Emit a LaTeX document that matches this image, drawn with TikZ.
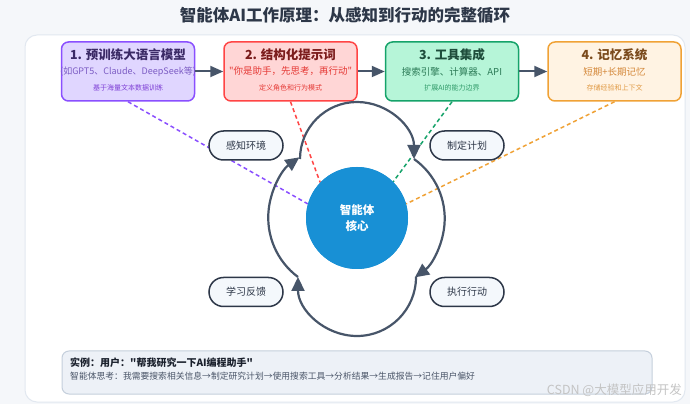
\documentclass[tikz,border=0pt]{standalone}
\usepackage{fontspec}
\setmainfont{Noto Sans CJK SC}[Ligatures=TeXOff]
\usetikzlibrary{arrows.meta}
\definecolor{bgc}{HTML}{F5F7FA}
\definecolor{panelb}{HTML}{E2E8F0}
\definecolor{titlec}{HTML}{2D3748}
\definecolor{arrowc}{HTML}{475569}
\definecolor{c1f}{HTML}{E0D6FF}
\definecolor{c1b}{HTML}{8A4FFF}
\definecolor{c1t}{HTML}{3B2A66}
\definecolor{c1s}{HTML}{7C5CC4}
\definecolor{c1n}{HTML}{7E3FD6}
\definecolor{c2f}{HTML}{FFD6D6}
\definecolor{c2b}{HTML}{FF4545}
\definecolor{c2t}{HTML}{7B1C1C}
\definecolor{c2s}{HTML}{E53935}
\definecolor{c2n}{HTML}{E53935}
\definecolor{c3f}{HTML}{B6F5D8}
\definecolor{c3b}{HTML}{16A36A}
\definecolor{c3t}{HTML}{1E4D3B}
\definecolor{c3s}{HTML}{2B7A56}
\definecolor{c3n}{HTML}{2F9A68}
\definecolor{c4f}{HTML}{FFF3E3}
\definecolor{c4b}{HTML}{F0A236}
\definecolor{c4t}{HTML}{7A4A1C}
\definecolor{c4s}{HTML}{D4883A}
\definecolor{c4n}{HTML}{E09A45}
\definecolor{corec}{HTML}{1890D5}
\definecolor{pillf}{HTML}{F4F8FC}
\definecolor{pillb}{HTML}{2D3748}
\definecolor{exf}{HTML}{EDF1F7}
\definecolor{exb}{HTML}{C5CFDC}
\definecolor{ext}{HTML}{1A202C}
\definecolor{exs}{HTML}{4A5568}
\definecolor{wmc}{HTML}{C4C4C4}
\begin{document}
\begin{tikzpicture}[x=1pt,y=1pt,
  stagebox/.style={draw, line width=1.5pt, rounded corners=7pt, minimum width=133pt, minimum height=59pt, inner sep=0pt},
  stitle/.style={font=\fontsize{12.5}{14}\selectfont\bfseries, inner sep=0pt},
  ssub/.style={font=\fontsize{9.5}{11}\selectfont, inner sep=0pt},
  snote/.style={font=\fontsize{7}{8}\selectfont, inner sep=0pt},
  flow/.style={draw=arrowc, line width=2pt, -{Triangle[length=13pt,width=11pt]}},
  loopline/.style={draw=arrowc, line width=2.2pt, -{Triangle[length=14pt,width=13pt]}},
  dline/.style={line width=1.5pt, dash pattern=on 4pt off 3pt},
  pill/.style={draw=pillb, fill=pillf, line width=1.5pt, rounded corners=14.5pt, minimum width=74pt, minimum height=29pt, inner sep=0pt, font=\fontsize{10}{12}\selectfont, text=titlec}
]
\useasboundingbox (0,0) rectangle (690,404);
\fill[bgc] (0,0) rectangle (690,404);
\node[font=\fontsize{16.5}{19}\selectfont\bfseries, text=titlec] (title) at (345,389) {智能体AI工作原理：从感知到行动的完整循环};
\draw[fill=white, draw=panelb, line width=1pt, rounded corners=12pt] (25,2) rectangle (685,369);

% stage boxes
\node[stagebox, draw=c1b, fill=c1f] (b1) at (128,332.5) {};
\node[stagebox, draw=c2b, fill=c2f] (b2) at (290.5,332.5) {};
\node[stagebox, draw=c3b, fill=c3f] (b3) at (452,332.5) {};
\node[stagebox, draw=c4b, fill=c4f] (b4) at (614.5,332.5) {};

% core
\node[circle, fill=corec, minimum size=102pt, inner sep=0pt] (core) at (357,186) {};

% dashed links
\draw[dline, draw=c1b] (b1.south) -- (core.164);
\draw[dline, draw=c2b] (b2.south) -- (core.136);
\draw[dline, draw=c3b] (b3.south) -- (core.45);
\draw[dline, draw=c4b] (b4.south) -- (core.16);

% redraw core over lines
\node[circle, fill=corec, minimum size=102pt, inner sep=0pt, align=center, text=white, font=\fontsize{11.5}{16}\selectfont\bfseries] (coretext) at (357,186) {智能体\\核心};

% loop
\coordinate (j1) at (300,245);
\coordinate (j2) at (414,245);
\coordinate (j3) at (416,127);
\coordinate (j4) at (298,127);
\draw[loopline] (j1) arc[start angle=180, end angle=0, radius=57];
\draw[loopline] (j2) arc[start angle=54.6, end angle=-53.7, radius=73];
\draw[loopline] (j3) arc[start angle=0, end angle=-180, radius=59];
\draw[loopline] (j4) arc[start angle=233.3, end angle=125.4, radius=74];

% box texts
\node[stitle, text=c1t] (b1t) at ([yshift=16.5pt]b1.center) {1. 预训练大语言模型};
\node[ssub, text=c1s, font=\fontsize{9}{11}\selectfont] (b1s) at (b1.center) {(如GPT5、Claude、DeepSeek等)};
\node[snote, text=c1n] (b1n) at ([yshift=-16.5pt]b1.center) {基于海量文本数据训练};
\node[stitle, text=c2t] (b2t) at ([yshift=16.5pt]b2.center) {2. 结构化提示词};
\node[ssub, text=c2s] (b2s) at (b2.center) {"你是助手，先思考，再行动"};
\node[snote, text=c2n] (b2n) at ([yshift=-16.5pt]b2.center) {定义角色和行为模式};
\node[stitle, text=c3t] (b3t) at ([yshift=16.5pt]b3.center) {3. 工具集成};
\node[ssub, text=c3s] (b3s) at (b3.center) {搜索引擎、计算器、API};
\node[snote, text=c3n] (b3n) at ([yshift=-16.5pt]b3.center) {扩展AI的能力边界};
\node[stitle, text=c4t] (b4t) at ([yshift=16.5pt]b4.center) {4. 记忆系统};
\node[ssub, text=c4s] (b4s) at (b4.center) {短期+长期记忆};
\node[snote, text=c4n] (b4n) at ([yshift=-16.5pt]b4.center) {存储经验和上下文};

% box arrows
\draw[flow] (b1.east) -- (b2.west);
\draw[flow] (b2.east) -- (b3.west);
\draw[flow] (b3.east) -- (b4.west);

% pills
\node[pill] (p1) at (246,258.5) {感知环境};
\node[pill] (p2) at (467,258.5) {制定计划};
\node[pill] (p3) at (246,112) {学习反馈};
\node[pill] (p4) at (467,112) {执行行动};

% example box
\node[draw=exb, fill=exf, line width=1pt, rounded corners=7pt, minimum width=590pt, minimum height=43pt, inner sep=0pt] (ex) at (357,31.5) {};
\node[anchor=west, inner sep=0pt, text=ext, font=\fontsize{10}{12}\selectfont\bfseries] (ex1) at (70,41.5) {实例：用户："帮我研究一下AI编程助手"};
\node[anchor=west, inner sep=0pt, text=exs, font=\fontsize{8.8}{10}\selectfont] (ex2) at (70,28) {智能体思考：我需要搜索相关信息→制定研究计划→使用搜索工具→分析结果→生成报告→记住用户偏好};

% watermark
\node[anchor=east, inner sep=0pt, text=wmc, font=\fontsize{12.5}{14}\selectfont] (wm) at (682,14) {CSDN @大模型应用开发};
\end{tikzpicture}
\end{document}
